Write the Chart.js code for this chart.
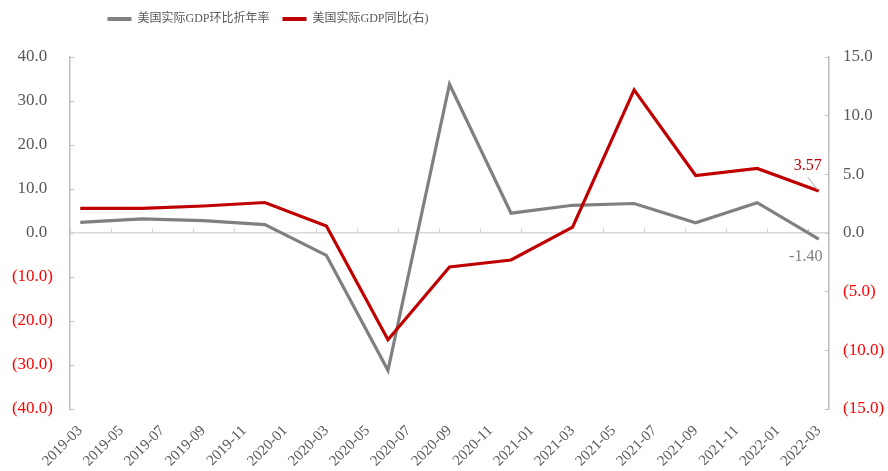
<!DOCTYPE html>
<html><head><meta charset="utf-8">
<script src="https://cdn.jsdelivr.net/npm/chart.js@4.4.1/dist/chart.umd.min.js"></script>
<style>html,body{margin:0;padding:0;background:#fff}#wrap{width:888px;height:471px;position:relative}</style>
</head><body><div id="wrap"><canvas id="c"></canvas></div>
<script>
// ---- data ----
const months = ["2019-03","2019-04","2019-05","2019-06","2019-07","2019-08","2019-09","2019-10","2019-11","2019-12",
  "2020-01","2020-02","2020-03","2020-04","2020-05","2020-06","2020-07","2020-08","2020-09","2020-10","2020-11","2020-12",
  "2021-01","2021-02","2021-03","2021-04","2021-05","2021-06","2021-07","2021-08","2021-09","2021-10","2021-11","2021-12",
  "2022-01","2022-02","2022-03"];
const quarters = ["2019-03","2019-06","2019-09","2019-12","2020-03","2020-06","2020-09","2020-12","2021-03","2021-06","2021-09","2021-12","2022-03"];
const qoqAnnualized = [2.4, 3.2, 2.8, 1.9, -5.1, -31.2, 33.8, 4.5, 6.3, 6.7, 2.3, 6.9, -1.4];
const yoy = [2.1, 2.1, 2.3, 2.6, 0.6, -9.1, -2.9, -2.3, 0.5, 12.2, 4.9, 5.5, 3.57];
const seriesNames = ["美国实际GDP环比折年率", "美国实际GDP同比(右)"];
const leftAxis = {min: -40, max: 40, step: 10};
const rightAxis = {min: -15, max: 15, step: 5};

// ---- styling ----
const FONT = "'Liberation Serif','Noto Sans CJK SC',serif";
const GRAY = '#808080', RED = '#c00000', TXT = '#595959', NEG = '#ff0000';
const fmt = v => v < 0 ? '(' + Math.abs(v).toFixed(1) + ')' : v.toFixed(1) + '\u2004';
const toPoints = vals => quarters.map((q, i) => ({x: q, y: vals[i]}));

const layoutPlugin = {
  id: 'layoutTweaks',
  beforeLayout(chart) {
    const lg = chart.legend;
    if (lg && !lg._patched) {
      const f = lg.fit;
      lg.fit = function () { f.call(this); this.height = 57; };
      lg._patched = true;
    }
  },
  afterLayout(chart) {
    const lg = chart.legend;
    if (lg) { lg.left -= 176; lg.right -= 176; }
  }
};

const valueLabels = {
  id: 'valueLabels',
  afterDatasetsDraw(chart) {
    const ctx = chart.ctx;
    const last = quarters.length - 1;
    const pr = chart.getDatasetMeta(1).data[last];
    const pg = chart.getDatasetMeta(0).data[last];
    ctx.save();
    ctx.font = '16px ' + FONT;
    ctx.textAlign = 'center';
    ctx.textBaseline = 'middle';
    ctx.strokeStyle = '#a6a6a6'; ctx.lineWidth = 1;
    ctx.beginPath(); ctx.moveTo(pr.x - 11, pr.y - 14); ctx.lineTo(pr.x - 1, pr.y - 1); ctx.stroke();
    ctx.fillStyle = RED;
    ctx.fillText(yoy[last].toFixed(2), pr.x - 11, pr.y - 25);
    ctx.fillStyle = '#7f7f7f';
    ctx.fillText(qoqAnnualized[last].toFixed(2), pg.x - 13, pg.y + 18);
    ctx.restore();
  }
};

new Chart(document.getElementById('c'), {
  type: 'line',
  data: {
    labels: months,
    datasets: [
      {label: seriesNames[0], data: toPoints(qoqAnnualized), yAxisID: 'y', xAxisID: 'x',
       borderColor: GRAY, backgroundColor: GRAY, borderWidth: 3.2, pointRadius: 0, tension: 0, order: 1},
      {label: seriesNames[1], data: toPoints(yoy), yAxisID: 'y2', xAxisID: 'x',
       borderColor: RED, backgroundColor: RED, borderWidth: 3.2, pointRadius: 0, tension: 0, order: 0}
    ]
  },
  options: {
    responsive: true, maintainAspectRatio: false, animation: false,
    layout: {padding: 0},
    plugins: {
      tooltip: {enabled: false},
      legend: {
        position: 'top',
        labels: {
          font: {family: FONT, size: 12}, color: TXT, boxWidth: 24, boxHeight: 4, padding: 13,
          sort: (a, b) => a.datasetIndex - b.datasetIndex,
          generateLabels(chart) {
            const items = Chart.defaults.plugins.legend.labels.generateLabels(chart);
            items.forEach(it => { it.lineWidth = 0; it.fillStyle = it.strokeStyle; });
            return items;
          }
        }
      }
    },
    scales: {
      x: {
        type: 'category', position: 'bottom', offset: true,
        grid: {display: false, drawTicks: false}, border: {display: false},
        ticks: {autoSkip: false, maxRotation: 45, minRotation: 45, padding: 13,
          font: {family: FONT, size: 15}, color: TXT,
          callback: (v, i) => i % 2 === 0 ? months[i] : ''},
        afterFit: s => { s.height = 62; }
      },
      xz: {
        type: 'category', position: {y: 0}, offset: true,
        ticks: {display: false, autoSkip: false},
        grid: {offset: true, drawOnChartArea: false, drawTicks: true, tickLength: -5, lineWidth: 1,
          color: ctx => ctx.index % 2 === 0 ? '#d0d0d0' : 'rgba(0,0,0,0)',
          tickColor: ctx => ctx.index % 2 === 0 ? '#d0d0d0' : 'rgba(0,0,0,0)'},
        border: {display: true, color: '#d9d9d9', width: 1.5}
      },
      y: {
        position: 'left', min: leftAxis.min, max: leftAxis.max,
        ticks: {stepSize: leftAxis.step, padding: 21, font: {family: FONT, size: 17},
          color: c => c.tick.value < 0 ? NEG : TXT, callback: v => fmt(v)},
        grid: {drawOnChartArea: false, drawTicks: true, tickLength: -4, color: '#bfbfbf'},
        border: {display: true, color: '#bfbfbf', width: 1.5},
        afterFit: s => { s.width = 70; }
      },
      y2: {
        position: 'right', min: rightAxis.min, max: rightAxis.max,
        ticks: {stepSize: rightAxis.step, padding: 18, font: {family: FONT, size: 17},
          color: c => c.tick.value < 0 ? NEG : TXT, callback: v => fmt(v)},
        grid: {drawOnChartArea: false, drawTicks: true, tickLength: -4, color: '#bfbfbf'},
        border: {display: true, color: '#bfbfbf', width: 1.5},
        afterFit: s => { s.width = 59; }
      }
    }
  },
  plugins: [layoutPlugin, valueLabels]
});
</script></body></html>
